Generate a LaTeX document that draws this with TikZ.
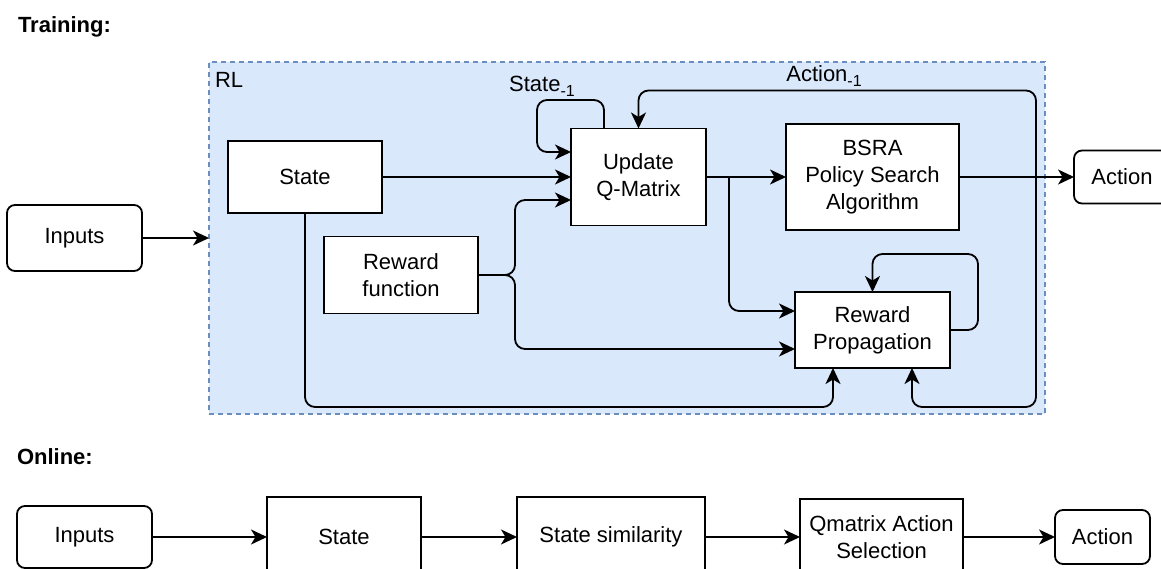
\documentclass[tikz,border=0pt]{standalone}
\usepackage{fontspec}
\setmainfont{Liberation Sans}
\usetikzlibrary{arrows.meta}
\definecolor{rlfill}{HTML}{DAE8FC}
\definecolor{rledge}{HTML}{6C8EBF}
\newcommand{\lowsub}[1]{\raisebox{-5pt}{\fontsize{16}{16}\selectfont #1}}
\begin{document}
\begin{tikzpicture}[x=1pt,y=-1pt,
  every node/.style={inner sep=0pt,outer sep=0pt,font=\fontsize{22}{27}\selectfont,align=center},
  box/.style={draw=black,fill=white,line width=1.8pt,rectangle},
  rbox/.style={box,rounded corners=8pt},
  arr/.style={draw=black,line width=1.8pt,rounded corners=10pt,
    -{Stealth[length=16pt,width=15pt,inset=4.5pt]}},
  container/.style={draw=rledge,fill=rlfill,line width=1.2pt,dash pattern=on 5pt off 4pt,rectangle},
  heading/.style={anchor=west,font=\fontsize{22}{27}\selectfont\bfseries}]
\useasboundingbox (0,0) rectangle (1161,569);

% ---------- Training ----------
\node[heading] (trainlbl) at (18,27) {Training:};
\node[container,minimum width=836pt,minimum height=352pt] (rl) at (627,238) {};
\node[anchor=west] (rllbl) at (215,80) {RL};

\node[rbox,minimum width=135pt,minimum height=66pt] (inT) at (74.5,238) {Inputs};
\node[box,minimum width=154pt,minimum height=72pt] (stT) at (305,177) {State};
\node[box,minimum width=154pt,minimum height=77pt] (rewf) at (401,275) {Reward\\function};
\node[box,minimum width=135pt,minimum height=97pt] (upd) at (638.5,177) {Update\\Q-Matrix};
\node[box,minimum width=173pt,minimum height=106pt] (bsra) at (872.5,177) {BSRA\\Policy Search\\Algorithm};
\node[rbox,minimum width=96pt,minimum height=53pt] (actT) at (1122,177) {Action};
\node[box,minimum width=155pt,minimum height=76pt] (rp) at (872.5,330) {Reward\\Propagation};

\node (lblS) at (542,86) {State\lowsub{-1}};
\node (lblA) at (824,76) {Action\lowsub{-1}};

% inputs into the RL block
\draw[arr] (inT.east) -- (inT.east -| rl.west);
% state into the Q-matrix update
\draw[arr] (stT.east) -- (stT.east -| upd.west);
% previous state loop
\draw[arr] ([xshift=-34.5pt]upd.north) |- (537,100) |- ([yshift=25pt]upd.west);
% reward function outputs
\draw[arr] (rewf.east) -- ++(37,0) |- ([yshift=-23pt]upd.west);
\draw[arr] (rewf.east) -- ++(37,0) |- ([yshift=-19pt]rp.west);
% Q-matrix update to policy search, with a branch to reward propagation
\draw[arr] (upd.east) -- (upd.east -| bsra.west);
\path (upd.east) ++(23,0) coordinate (br);
\draw[arr] (br) |- ([yshift=19pt]rp.west);
% policy search to action
\draw[arr] (bsra.east) -- (bsra.east -| actT.west);
% previous action fed back
\path (bsra.east) ++(77,0) coordinate (aj);
\draw[arr] (aj) |- ([yshift=38pt]upd.north) -- (upd.north);
\draw[arr] (aj) |- ([xshift=39.5pt,yshift=-39pt]rp.south) -- ([xshift=39.5pt]rp.south);
% state into reward propagation
\draw[arr] (stT.south) |- ([xshift=-39.5pt,yshift=-39pt]rp.south) -- ([xshift=-39.5pt]rp.south);
% reward propagation self loop
\draw[arr] (rp.east) -- ++(28,0) |- ([yshift=38pt]rp.north) -- (rp.north);

% ---------- Online ----------
\node[heading] (onlbl) at (17,457) {Online:};
\node[rbox,minimum width=135pt,minimum height=62pt] (inO) at (84.5,537) {Inputs};
\node[box,minimum width=154pt,minimum height=80pt] (stO) at (344,537) {State};
\node[box,minimum width=188pt,minimum height=80pt] (simO) at (611,537) {State similarity};
\node[box,minimum width=163pt,minimum height=76pt] (qO) at (881.5,537) {Qmatrix Action\\Selection};
\node[rbox,minimum width=95pt,minimum height=54pt] (actO) at (1102.5,537) {Action};

\draw[arr] (inO.east) -- (inO.east -| stO.west);
\draw[arr] (stO.east) -- (stO.east -| simO.west);
\draw[arr] (simO.east) -- (simO.east -| qO.west);
\draw[arr] (qO.east) -- (qO.east -| actO.west);
\end{tikzpicture}
\end{document}
